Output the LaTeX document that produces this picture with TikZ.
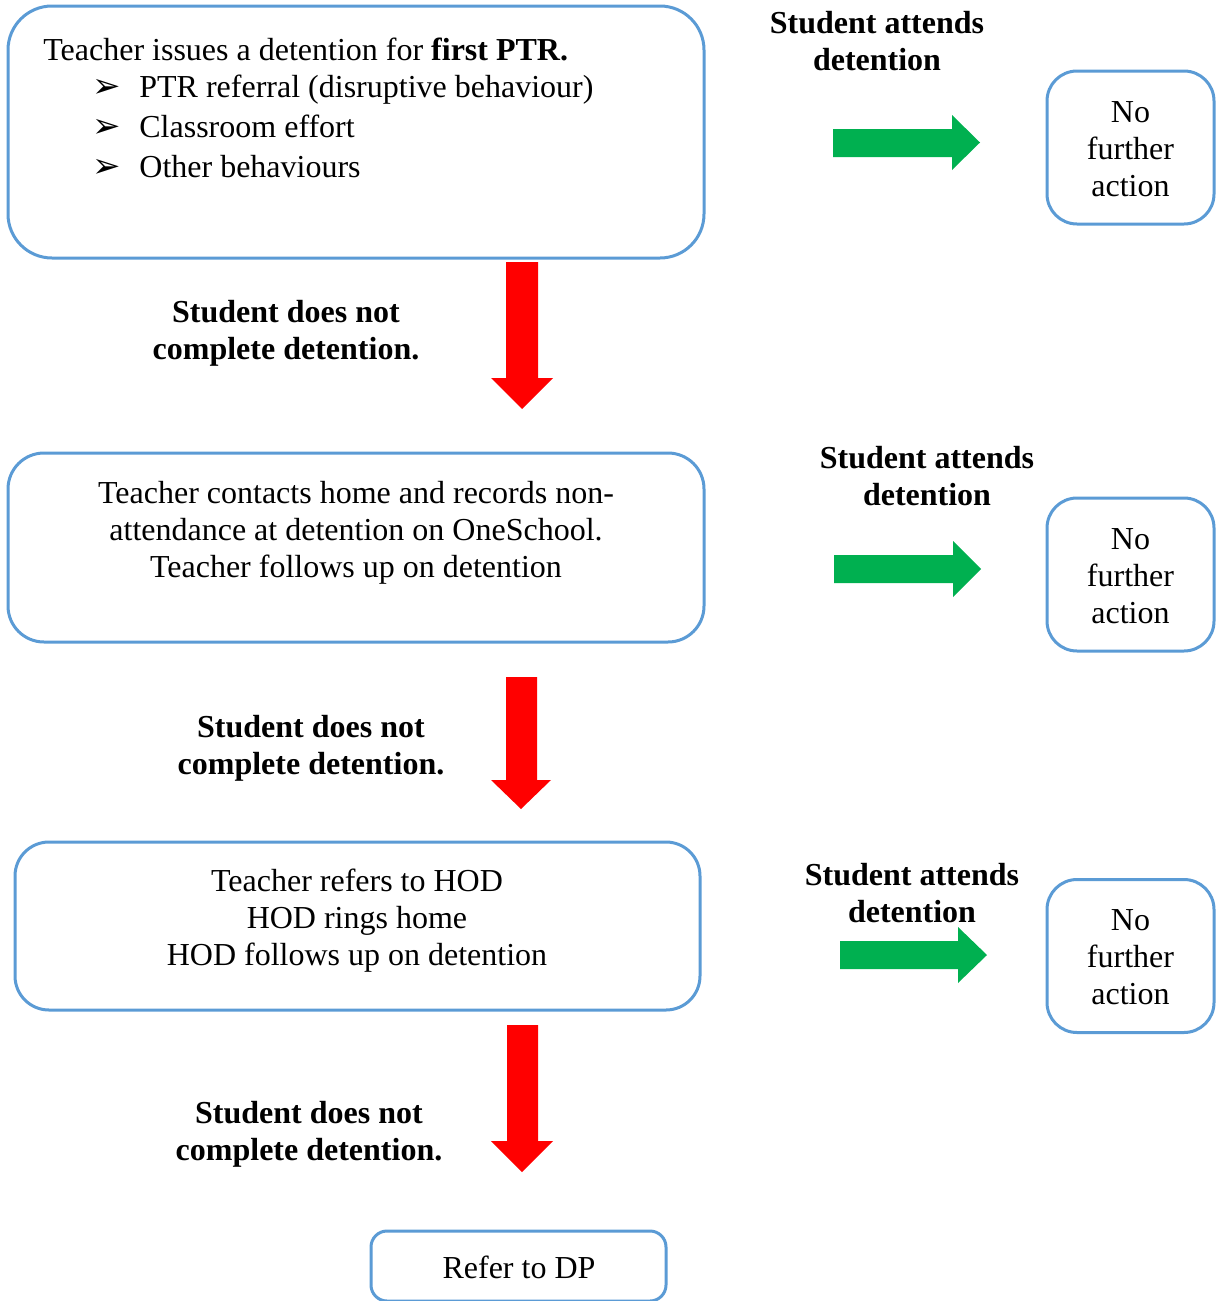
\documentclass[tikz,border=0pt]{standalone}
\usepackage{fontspec}
\setmainfont{Liberation Serif}
\newfontfamily\dvsym{DejaVu Sans}
\definecolor{boxblue}{RGB}{91,155,213}
\definecolor{arrgreen}{RGB}{0,176,80}
\definecolor{arrred}{RGB}{255,0,0}
\begin{document}
\begin{tikzpicture}[x=0.5pt,y=-0.5pt,
  box/.style={draw=boxblue, line width=1.5pt, rounded corners=#1, fill=white, inner sep=0pt},
  box/.default=15pt,
  txt/.style={font=\fontsize{16}{18.5}\selectfont, inner sep=0pt, align=center},
  lbl/.style={font=\fontsize{16}{18.5}\selectfont\bfseries, inner sep=0pt, align=center},
  bul/.style={font=\dvsym\fontsize{17}{19}\selectfont, inner sep=0pt, anchor=base west},
  garrow/.style={fill=arrgreen},
  rarrow/.style={fill=arrred}]
\useasboundingbox (0,0) rectangle (1221,1301);

% main boxes
\node[box=22pt, minimum width=348pt, minimum height=126pt] (b1) at (356,132) {};
\node[box=18pt, minimum width=348pt, minimum height=94.5pt] (b2) at (356,547.5) {};
\node[box=17pt, minimum width=342.5pt, minimum height=84pt] (b3) at (357.5,926) {};
\node[box=8pt, minimum width=147.5pt, minimum height=35pt] (b4) at (518.5,1266) {};

% right boxes
\node[box=15pt, minimum width=83.5pt, minimum height=76.5pt] (n1) at (1130.5,147.5) {};
\node[box=15pt, minimum width=83.5pt, minimum height=76.5pt] (n2) at (1130.5,574.5) {};
\node[box=15pt, minimum width=83.5pt, minimum height=76.5pt] (n3) at (1130.5,956) {};
\node[txt] (m1) at (1130.5,149) {No\\further\\action};
\node[txt] (m2) at (1130.5,576) {No\\further\\action};
\node[txt] (m3) at (1130.5,957.5) {No\\further\\action};

% box 1 text
\node[txt, anchor=base west] (t1a) at (43,60) {Teacher issues a detention for \textbf{first PTR.}};
\node[bul] (u1) at (92,97) {➢};
\node[txt, anchor=base west] (t1b) at (139,97) {PTR referral (disruptive behaviour)};
\node[bul] (u2) at (92,137) {➢};
\node[txt, anchor=base west] (t1c) at (139,137) {Classroom effort};
\node[bul] (u3) at (92,177) {➢};
\node[txt, anchor=base west] (t1d) at (139,177) {Other behaviours};

% box 2, 3, 4 text
\node[txt] (t2) at (356,532.5) {Teacher contacts home and records non-\\attendance at detention on OneSchool.\\Teacher follows up on detention};
\node[txt] (t3) at (357,920.5) {Teacher refers to HOD\\HOD rings home\\HOD follows up on detention};
\node[txt] (t4) at (519,1267) {Refer to DP};

% labels
\node[lbl] (l1) at (877,41) {Student attends\\detention};
\node[lbl] (l2) at (927,476) {Student attends\\detention};
\node[lbl] (l3) at (912,893) {Student attends\\detention};
\node[lbl] (r1) at (286,333.5) {Student does not\\complete detention.};
\node[lbl] (r2) at (311,748.5) {Student does not\\complete detention.};
\node[lbl] (r3) at (309,1134.5) {Student does not\\complete detention.};

% green arrows
\fill[garrow] (833,129) -- (952,129) -- (952,115) -- (980,142.5) -- (952,170) -- (952,157) -- (833,157) -- cycle;
\fill[garrow] (834,555) -- (953,555) -- (953,541) -- (981,569) -- (953,597) -- (953,583) -- (834,583) -- cycle;
\fill[garrow] (840,941) -- (958,941) -- (958,927) -- (987,955) -- (958,983) -- (958,969) -- (840,969) -- cycle;

% red arrows
\fill[rarrow] (506,262) -- (538,262) -- (538,378) -- (553,378) -- (522,409) -- (491,378) -- (506,378) -- cycle;
\fill[rarrow] (506,677) -- (537,677) -- (537,780) -- (551,780) -- (521,809) -- (491,780) -- (506,780) -- cycle;
\fill[rarrow] (507,1025) -- (538,1025) -- (538,1141) -- (553,1141) -- (522,1172) -- (491,1141) -- (507,1141) -- cycle;
\end{tikzpicture}
\end{document}
